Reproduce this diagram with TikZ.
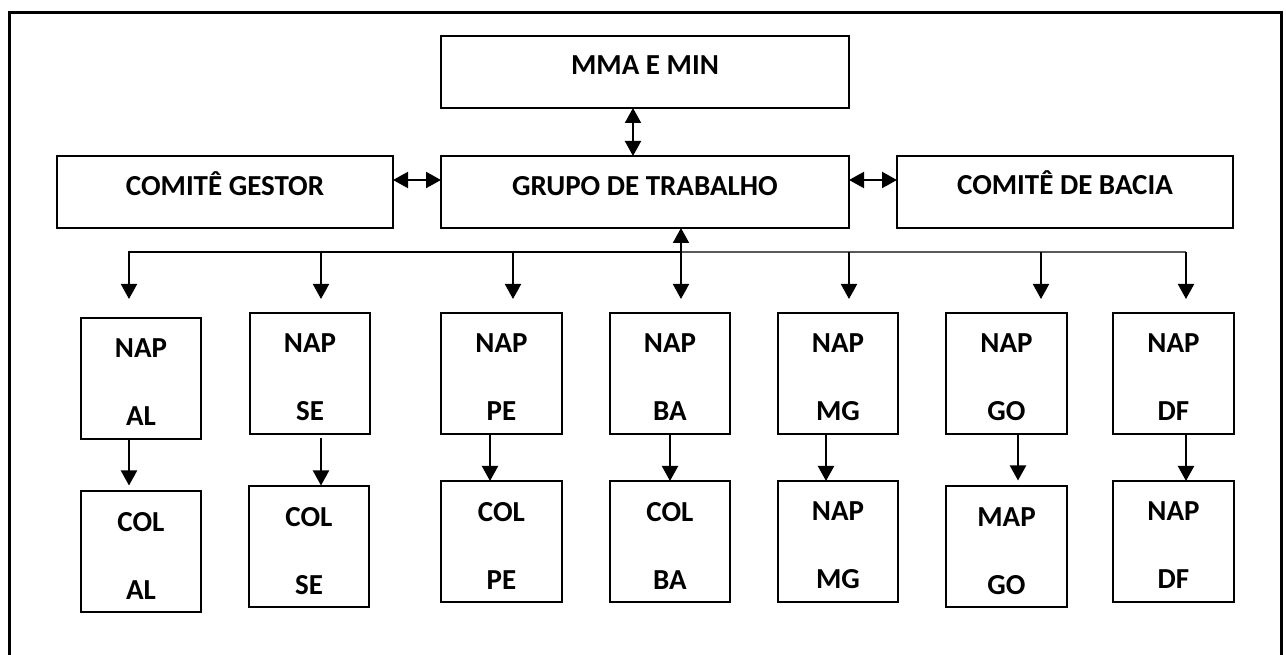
\documentclass[tikz,border=0pt]{standalone}
\usepackage{fontspec}
\setmainfont{Carlito}
\usetikzlibrary{arrows.meta}
\begin{document}
\begin{tikzpicture}[x=0.75pt,y=-0.75pt,
  box/.style={draw, line width=1.5pt, inner sep=0pt, outer sep=0pt},
  bigbox/.style={box, minimum width=252pt, minimum height=54pt},
  napbox/.style={box, minimum width=90.4pt, minimum height=90.75pt},
  lbl/.style={font=\fontsize{21.75pt}{26pt}\selectfont\bfseries, inner sep=0pt, text height=14pt, text depth=0pt},
  lbltwo/.style={font=\fontsize{21.75pt}{51pt}\selectfont\bfseries, inner sep=0pt, align=center},
  tip/.style={Triangle[length=11.25pt,width=12pt]},
  arr/.style={line width=1.5pt, -{Triangle[length=11.25pt,width=12pt]}},
  darr/.style={line width=1.5pt, {Triangle[length=11.25pt,width=12pt]}-{Triangle[length=11.25pt,width=12pt]}},
]
\useasboundingbox (0,0) rectangle (1286,655);
\fill[white] (0,0) rectangle (1286,655);

% outer frame
\draw[line width=2.25pt] (9,665) -- (9,12.5) -- (1281,12.5) -- (1281,665);

% top boxes
\node[box, minimum width=306pt, minimum height=54pt] (mma) at (645,72) {};
\node[lbl] (mmat) at ([yshift=5pt]mma.center) {MMA E MIN};
\node[bigbox] (cg) at (225,192) {};
\node[lbl] (cgt) at ([yshift=4.6pt]cg.center) {COMITÊ GESTOR};
\node[box, minimum width=306pt, minimum height=54pt] (gt) at (645,192) {};
\node[lbl] (gtt) at ([yshift=4.6pt]gt.center) {GRUPO DE TRABALHO};
\node[bigbox] (cb) at (1065,192) {};
\node[lbl] (cbt) at ([yshift=4.8pt]cb.center) {COMITÊ DE BACIA};

% NAP row
\node[napbox] (nAL) at (141,378.5) {};
\node[napbox] (nSE) at (310,373.5) {};
\node[napbox] (nPE) at (501.5,373.5) {};
\node[napbox] (nBA) at (670,373.5) {};
\node[napbox] (nMG) at (838,373.5) {};
\node[napbox] (nGO) at (1006.5,373.5) {};
\node[napbox] (nDF) at (1173.5,373.5) {};
\node[lbltwo] (nALt) at ([yshift=-3pt]nAL.center) {NAP\\AL};
\node[lbltwo] (nSEt) at ([yshift=-3pt]nSE.center) {NAP\\SE};
\node[lbltwo] (nPEt) at ([yshift=-3pt]nPE.center) {NAP\\PE};
\node[lbltwo] (nBAt) at ([yshift=-3pt]nBA.center) {NAP\\BA};
\node[lbltwo] (nMGt) at ([yshift=-3pt]nMG.center) {NAP\\MG};
\node[lbltwo] (nGOt) at ([yshift=-3pt]nGO.center) {NAP\\GO};
\node[lbltwo] (nDFt) at ([yshift=-3pt]nDF.center) {NAP\\DF};

% second row
\node[napbox] (cAL) at (141,552) {};
\node[napbox] (cSE) at (309,547) {};
\node[napbox] (cPE) at (501.5,541.5) {};
\node[napbox] (cBA) at (670,541.5) {};
\node[napbox] (cMG) at (838,541.5) {};
\node[napbox] (cGO) at (1006.5,547) {};
\node[napbox] (cDF) at (1173.5,541.5) {};
\node[lbltwo] (cALt) at ([yshift=-3pt]cAL.center) {COL\\AL};
\node[lbltwo] (cSEt) at ([yshift=-3pt]cSE.center) {COL\\SE};
\node[lbltwo] (cPEt) at ([yshift=-3pt]cPE.center) {COL\\PE};
\node[lbltwo] (cBAt) at ([yshift=-3pt]cBA.center) {COL\\BA};
\node[lbltwo] (cMGt) at ([yshift=-3pt]cMG.center) {NAP\\MG};
\node[lbltwo] (cGOt) at ([yshift=-3pt]cGO.center) {MAP\\GO};
\node[lbltwo] (cDFt) at ([yshift=-3pt]cDF.center) {NAP\\DF};

% helper coordinates
\coordinate (xm) at (633,0);
\coordinate (yh) at (0,180);
\coordinate (b1) at (129,252);
\coordinate (b2) at (321,252);
\coordinate (b3) at (513,252);
\coordinate (b4) at (681,252);
\coordinate (b5) at (849,252);
\coordinate (b6) at (1041,252);
\coordinate (b7) at (1186,252);
\coordinate (xAL) at (129,0);
\coordinate (xSE) at (321,0);
\coordinate (xPE) at (490,0);
\coordinate (xBA) at (670,0);
\coordinate (xMG) at (826,0);
\coordinate (xGO) at (1018,0);
\coordinate (xDF) at (1186,0);

% upper connectors
\draw[darr] (mma.south -| xm) -- (gt.north -| xm);
\draw[darr] (cg.east |- yh) -- (gt.west |- yh);
\draw[darr] (gt.east |- yh) -- (cb.west |- yh);

% bus
\draw[line width=0.8pt, black!65] (b4) -- (b7);
\draw[arr, shorten >=14.25pt] (b4) -- (b1) -- (nAL.north -| b1);
\draw[arr, shorten >=10.5pt] (b2) -- (nSE.north -| b2);
\draw[arr, shorten >=10.5pt] (b3) -- (nPE.north -| b3);
\draw[darr, shorten >=10.5pt] (gt.south -| b4) -- (nBA.north -| b4);
\draw[arr, shorten >=10.5pt] (b5) -- (nMG.north -| b5);
\draw[arr, shorten >=10.5pt] (b6) -- (nGO.north -| b6);
\draw[arr, shorten >=10.5pt] (b7) -- (nDF.north -| b7);

% NAP -> COL
\draw[arr, shorten >=4.5pt] (nAL.south -| xAL) -- (cAL.north -| xAL);
\draw[arr, shorten <=3pt, shorten >=0.75pt] (nSE.south -| xSE) -- (cSE.north -| xSE);
\draw[arr] (nPE.south -| xPE) -- (cPE.north -| xPE);
\draw[arr] (nBA.south -| xBA) -- (cBA.north -| xBA);
\draw[arr] (nMG.south -| xMG) -- (cMG.north -| xMG);
\draw[arr, shorten >=4.5pt] (nGO.south -| xGO) -- (cGO.north -| xGO);
\draw[arr] (nDF.south -| xDF) -- (cDF.north -| xDF);
\end{tikzpicture}
\end{document}
